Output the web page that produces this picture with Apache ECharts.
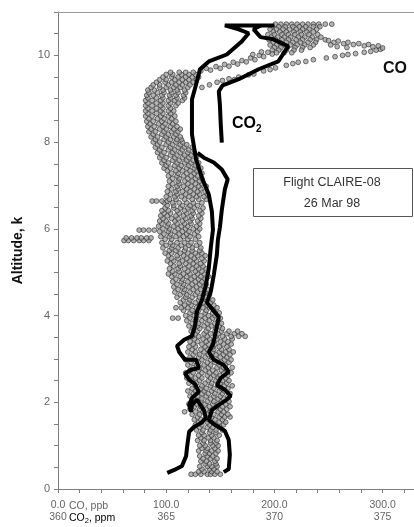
<!DOCTYPE html>
<html>
<head>
<meta charset="utf-8">
<script src="https://cdn.jsdelivr.net/npm/echarts@6/dist/echarts.min.js"></script>
<style>
html,body{margin:0;padding:0;background:#fff;}
#chart{width:414px;height:527px;}
</style>
</head>
<body>
<div id="chart"></div>
<script>
// ---- tick labels ----
const yTickLabels = [0, 2, 4, 6, 8, 10];
const coTickLabels = [0, 100, 200, 300];      // CO, ppb
const co2TickLabels = [360, 365, 370, 375];   // CO2, ppm

// ---- CO scatter (ppb): rows are [altitude km, CO values...] ----
const coLowerRows = [
  [0.34,123,127,132,138,141,145,150],[0.4,130,135,142,147],[0.46,133,140,144],
  [0.52,131,138,142,147],[0.58,136,140,146],[0.64,132,137,145],[0.7,134,141,147],
  [0.76,131,138,143],[0.82,136,140,146],[0.88,130,137,142,148],[0.94,133,138,145],
  [1.0,131,136,143,148],[1.06,134,141,146],[1.12,129,135,141,147],[1.18,132,139,144],
  [1.24,130,135,142,149],[1.3,133,140,146],[1.36,128,134,141,146,152],[1.42,131,138,143,150],
  [1.48,127,133,140,147,153],[1.54,130,138,143,149,155],[1.6,126,132,139,145,152],
  [1.66,129,137,142,149,154,159],[1.72,124,131,138,144,151,157],[1.78,117,127,134,141,148,153],
  [1.84,122,131,137,142,150,156],[1.9,126,132,140,147,152,159],[1.96,121,128,136,143,148,155],
  [2.02,124,132,138,144,151,158],[2.08,127,133,141,148,153],[2.14,122,129,137,144,150,157],
  [2.2,125,133,139,145,152,159],[2.26,120,127,135,142,149,154],[2.32,124,132,137,144,151,157],
  [2.38,127,133,141,148,154,161],[2.44,121,128,136,142,150,156],[2.5,124,131,139,146,152,158],
  [2.56,119,127,133,141,148,155],[2.62,123,130,138,144,150,157],[2.68,118,125,133,140,146,153,160],
  [2.74,122,130,136,143,151,156],[2.8,125,131,139,147,153,161],[2.86,120,128,135,141,149,155],
  [2.92,123,130,138,145,151,158],[2.98,118,125,133,141,147,154,160],[3.04,122,130,136,142,150,156],
  [3.1,125,131,139,146,153,159],[3.16,120,127,135,143,149,155,162],[3.22,124,132,138,144,151,158],
  [3.28,121,127,136,143,149,156],[3.34,125,133,139,145,153,160],[3.4,122,129,137,144,150,157],
  [3.46,126,134,140,147,154,161],[3.52,124,130,138,146,152,160,167,173],
  [3.58,127,135,141,148,156,163,170],[3.64,123,129,137,145,151,158,166]
];
const coMiddleRows = [
  [3.7,125,131,139,146,152],[3.76,121,129,135,142,149],[3.82,124,130,138,145,151],
  [3.88,119,127,133,140,148],[3.94,106,111,122,128,136,143,150],[4.0,118,126,132,139,145],
  [4.06,122,128,136,143,149],[4.12,116,124,130,137,144],[4.18,109,114,120,128,134,140,147],
  [4.24,117,123,131,138,144],[4.3,113,121,127,134,141],[4.36,116,122,130,137,143],
  [4.42,110,118,124,131,137],[4.48,113,119,127,134,140],[4.54,108,116,122,129,136],
  [4.6,111,117,125,132,138],[4.66,107,115,121,128,135],[4.72,110,116,124,131,137],
  [4.78,106,114,120,127,133],[4.84,109,115,123,130,136],[4.9,105,113,119,126,132,139],
  [4.96,102,108,116,122,129,135],[5.02,106,112,120,127,133],[5.08,103,111,117,124,130,137],
  [5.14,107,113,121,128,134],[5.2,104,112,118,125,132],[5.26,101,107,115,122,128,135],
  [5.32,105,111,119,126,133],[5.38,102,110,116,123,129,136],[5.44,99,105,113,120,127,133],
  [5.5,103,109,117,124,131],[5.56,97,105,111,118,124,132],[5.62,100,106,114,121,128],
  [5.68,96,104,110,117,123,131],[5.73,61,65,70,75,79,84],[5.76,99,105,113,120,127],
  [5.79,63,68,73,77,82,86],[5.82,95,103,109,116,122,130],[5.88,98,104,112,119,126],
  [5.94,94,102,108,115,121,129],[5.97,75,79,84,89],[6.0,97,103,111,118,125,131]
];
const coUpperRows = [
  [6.06,93,101,107,114,120,128],[6.12,96,102,110,117,123,131],[6.18,94,100,108,115,122,129],
  [6.24,97,105,111,118,124,132],[6.3,95,101,109,116,123,130],[6.36,98,104,112,119,125,133],
  [6.42,96,102,110,117,124,131],[6.48,99,107,113,120,126,134],[6.54,101,107,115,122,129],
  [6.6,98,106,112,119,125,133],[6.64,87,91,96,101],[6.68,103,109,117,124,130,137],
  [6.74,100,108,114,121,128,135],[6.8,104,110,118,125,131,138],[6.86,101,109,115,122,129,136],
  [6.92,105,111,119,126,132],[6.98,102,110,116,123,130,137],[7.04,106,112,120,127,133],
  [7.1,103,111,117,124,131],[7.16,106,112,120,127,133],[7.22,102,110,116,123,129],
  [7.28,105,111,119,126,133],[7.34,101,109,115,122,128],[7.4,98,104,112,119,126,132],
  [7.46,100,108,114,121,127],[7.52,96,102,110,117,123,130],[7.58,98,106,112,119,125],
  [7.64,94,100,108,115,121,128],[7.7,96,104,110,117,123],[7.76,92,98,106,113,120,126],
  [7.82,94,102,108,115,121],[7.88,90,96,104,111,117,124],[7.94,92,100,106,113,119],
  [8.0,88,94,102,109,115],[8.06,90,98,104,110,114],[8.12,86,92,100,107,113],
  [8.18,88,96,102,109],[8.24,84,90,98,105,111],[8.3,86,94,100,107,113],
  [8.36,83,89,97,104,110],[8.42,85,93,99,106],[8.48,82,88,96,103,109],
  [8.54,84,92,98,105],[8.6,81,87,95,102,108],[8.66,83,91,97,104],
  [8.72,81,87,95,102,107],[8.78,83,91,97,104],[8.84,81,87,95,102,109],
  [8.9,83,91,97,104,111],[8.96,81,87,95,102,108,115],[9.02,83,91,97,104,110,117],
  [9.08,82,88,96,103,109,116],[9.14,84,92,98,105,111,118],[9.2,83,89,97,104,110,117],
  [9.26,86,94,100,107,113,120,133],[9.32,88,94,102,109,115,122,140],
  [9.38,91,99,105,112,118,125,147],[9.44,94,100,108,115,121,128],
  [9.5,97,105,111,118,124,130],[9.56,100,106,114,121,127],[9.61,104,112,118,125]
];
const coPlumeRows = [
  [10.72,201,206,211,216,221,226,231,236,241,247,253],
  [10.66,198,204,210,217,223,229,236,242],[10.6,196,202,208,214,220,226,232,239],
  [10.54,199,205,211,218,224,230,236],[10.48,194,200,207,213,219,225,232,240],
  [10.42,197,203,209,215,222,228,235,243],[10.36,195,201,207,213,220,226,233,239,247],
  [10.3,199,205,211,217,224,231,238],[10.24,196,202,208,215,221,228,236],
  [10.18,200,206,212,219,226,233],[10.12,198,204,211,218,225],[10.06,202,209,216]
];
// individual [CO, altitude] points of the plume bands and tail
const coUpperBand = [[132,9.64],[137,9.7],[141,9.66],[146,9.74],[150,9.7],[154,9.79],[158,9.75],
  [162,9.84],[166,9.8],[170,9.88],[174,9.85],[178,9.94],[182,9.9],[186,10.0],[190,9.97],
  [194,10.07],[198,10.03],[188,10.08],[180,10.02]];
const coLowerBand = [[152,9.42],[158,9.46],[163,9.44],[167,9.5],[176,9.55],[181,9.57],[190,9.64],
  [196,9.67],[201,9.71],[211,9.77],[217,9.81],[222,9.84],[229,9.86],[236,9.9],[248,9.94],
  [256,9.97],[263,10.0],[268,10.02],[275,10.04],[283,10.07],[289,10.09],[294,10.12],[298,10.14]];
const coTail = [[250,10.34],[255,10.3],[259,10.33],[264,10.27],[268,10.3],[273,10.25],[278,10.27],
  [283,10.22],[287,10.25],[291,10.2],[296,10.22],[300,10.17],[258,10.2],[267,10.18],[252,10.24]];

// ---- CO2 profiles (ppm, altitude km) ----
const co2ProfileA = [[365.05,0.37],[365.37,0.44],[365.73,0.53],[365.92,0.76],[365.96,0.95],[366.06,1.32],
  [366.28,1.43],[366.61,1.52],[366.83,1.64],[366.74,1.82],[366.42,2.06],[366.19,1.94],[366.15,1.78],
  [366.06,1.94],[366.19,2.10],[366.51,2.24],[366.33,2.42],[366.06,2.52],[365.87,2.66],[366.15,2.75],
  [366.51,2.79],[366.38,2.98],[365.87,2.98],[365.60,3.16],[365.50,3.30],[365.83,3.44],[366.19,3.53],
  [366.33,3.76],[366.42,4.09],[366.65,4.36],[366.83,4.69],[366.97,5.10],[367.06,5.57],[367.16,5.98],
  [367.11,6.40],[366.97,6.79],[366.65,7.18],[366.38,7.60],[366.19,8.18],[366.19,8.98],[366.38,9.33],
  [366.56,9.68],[366.97,9.86],[367.80,10.02],[368.49,10.32],[368.81,10.51],[368.35,10.60],
  [367.71,10.69],[370.00,10.69]];
const co2ProfileB = [[367.66,0.39],[367.89,0.46],[367.94,0.79],[367.89,1.13],[367.71,1.34],[367.25,1.48],
  [366.97,1.59],[367.11,1.82],[367.43,1.94],[367.80,2.06],[367.98,2.15],[367.71,2.29],[367.34,2.40],
  [367.52,2.56],[367.89,2.70],[367.66,2.86],[367.20,2.98],[366.97,3.16],[367.16,3.33],[367.29,3.63],
  [367.43,3.97],[366.88,4.30],[367.06,4.55],[367.20,4.94],[367.34,5.40],[367.39,5.75],[367.48,6.03],
  [367.57,6.44],[367.71,6.91],[367.84,7.14],[367.57,7.37],[367.20,7.53],[366.74,7.64],[366.45,7.75]];
const co2ProfileC = [[367.57,7.99],[367.52,8.41],[367.48,8.87],[367.43,9.17],[367.61,9.31],[368.35,9.45],
  [369.27,9.68],[370.18,9.86],[370.64,10.21],[369.95,10.37],[369.36,10.42],[369.04,10.60],[369.36,10.69]];

// ---- build table ----
function rowsToPoints(rows){ return rows.flatMap(r => r.slice(1).map(c => [c, r[0]])); }
const coPoints = [].concat(
  rowsToPoints(coLowerRows), rowsToPoints(coMiddleRows), rowsToPoints(coUpperRows),
  rowsToPoints(coPlumeRows), coUpperBand, coLowerBand, coTail);

const FONT = '"Liberation Sans", Arial, sans-serif';
const axisGray = '#7f7f7f';
const labelGray = '#666';
const CO_MAX = 329;
const CO2_MIN = 360, CO2_PER_CO = 1/20;

const chart = echarts.init(document.getElementById('chart'), null, {renderer:'canvas'});
const option = {
  animation: false,
  backgroundColor: '#fff',
  textStyle: {fontFamily: FONT},
  grid: {left: 58, right: 0, top: 12, bottom: 38, containLabel: false},
  xAxis: [
    { // CO labels
      type: 'value', min: 0, max: CO_MAX, interval: 100, position: 'bottom',
      axisLine: {show: true, onZero: false, lineStyle: {color: axisGray, width: 1}},
      axisTick: {show: false}, splitLine: {show: false},
      axisLabel: {margin: 11, fontSize: 10.5, color: labelGray, fontFamily: FONT, showMaxLabel: false,
        formatter: v => coTickLabels.includes(v) ? v.toFixed(1) : ''}
    },
    { // CO2 labels
      type: 'value', min: CO2_MIN, max: CO2_MIN + CO_MAX * CO2_PER_CO, interval: 5, position: 'bottom',
      axisLine: {show: false}, axisTick: {show: false}, splitLine: {show: false},
      axisLabel: {margin: 23, fontSize: 10.5, color: labelGray, fontFamily: FONT, showMaxLabel: false,
        formatter: v => co2TickLabels.includes(v) ? String(v) : ''}
    },
    { // small ticks every 20 ppb
      type: 'value', min: 0, max: CO_MAX, interval: 20, position: 'bottom',
      axisLine: {show: false}, splitLine: {show: false}, axisLabel: {show: false},
      axisTick: {show: true, length: 4, lineStyle: {color: axisGray}}
    },
    { // top frame line
      type: 'value', min: 0, max: CO_MAX, position: 'top',
      axisLine: {show: true, lineStyle: {color: '#999', width: 1}},
      axisTick: {show: false}, axisLabel: {show: false}, splitLine: {show: false}
    }
  ],
  yAxis: [
    {
      type: 'value', min: 0, max: 11, interval: 2, position: 'left',
      name: 'Altitude, k', nameLocation: 'middle', nameGap: 33, nameRotate: 90,
      nameTextStyle: {fontWeight: 'bold', fontSize: 14, color: '#111', fontFamily: FONT},
      axisLine: {show: true, lineStyle: {color: axisGray, width: 1}},
      axisTick: {show: false}, splitLine: {show: false},
      axisLabel: {margin: 8, fontSize: 11, color: labelGray, fontFamily: FONT, showMaxLabel: false,
        formatter: v => yTickLabels.includes(v) ? String(v) : ''}
    },
    {
      type: 'value', min: 0, max: 11, interval: 0.5, position: 'left',
      axisLine: {show: false}, splitLine: {show: false}, axisLabel: {show: false},
      axisTick: {show: true, length: 4, lineStyle: {color: axisGray}}
    }
  ],
  series: [
    {
      name: 'CO', type: 'scatter', xAxisIndex: 0, yAxisIndex: 0, data: coPoints,
      symbol: 'circle', symbolSize: 4.8, z: 2, large: false,
      itemStyle: {color: '#a2a2a2', borderColor: '#2a2a2a', borderWidth: 0.8}
    },
    {
      name: 'CO2 A', type: 'line', xAxisIndex: 1, yAxisIndex: 0, data: co2ProfileA,
      showSymbol: false, symbol: 'none', z: 3, lineStyle: {color: '#000', width: 4}
    },
    {
      name: 'CO2 B', type: 'line', xAxisIndex: 1, yAxisIndex: 0, data: co2ProfileB,
      showSymbol: false, symbol: 'none', z: 3, lineStyle: {color: '#000', width: 4}
    },
    {
      name: 'CO2 C', type: 'line', xAxisIndex: 1, yAxisIndex: 0, data: co2ProfileC,
      showSymbol: false, symbol: 'none', z: 3, lineStyle: {color: '#000', width: 4}
    }
  ],
  graphic: [
    {type: 'rect', left: 253, top: 168, shape: {width: 159, height: 48}, z: 10,
      style: {fill: '#fff', stroke: '#555', lineWidth: 1}},
    {type: 'text', x: 332, y: 183, z: 11,
      style: {text: 'Flight CLAIRE-08', font: '12.5px ' + FONT, fill: '#333', textAlign: 'center', textVerticalAlign: 'middle'}},
    {type: 'text', x: 332, y: 204, z: 11,
      style: {text: '26 Mar 98', font: '12.5px ' + FONT, fill: '#333', textAlign: 'center', textVerticalAlign: 'middle'}},
    {type: 'text', x: 232, y: 124, z: 11,
      style: {text: '{a|CO}{b|2}', textVerticalAlign: 'middle',
        rich: {a: {fontSize: 16, fontWeight: 'bold', fontFamily: FONT, color: '#111'},
               b: {fontSize: 10, fontWeight: 'bold', fontFamily: FONT, color: '#111', padding: [10, 0, 0, 0]}}}},
    {type: 'text', x: 383, y: 69, z: 11,
      style: {text: 'CO', font: 'bold 16px ' + FONT, fill: '#111', textVerticalAlign: 'middle'}},
    {type: 'text', x: 69, y: 506, z: 11,
      style: {text: 'CO, ppb', font: '10.5px ' + FONT, fill: labelGray, textVerticalAlign: 'middle'}},
    {type: 'text', x: 69, y: 518, z: 11,
      style: {text: '{a|CO}{b|2}{a|, ppm}', textVerticalAlign: 'middle',
        rich: {a: {fontSize: 10.5, fontFamily: FONT, color: labelGray},
               b: {fontSize: 7.5, fontFamily: FONT, color: labelGray, padding: [5, 0, 0, 0]}}}}
  ]
};
chart.setOption(option);
</script>
</body>
</html>
